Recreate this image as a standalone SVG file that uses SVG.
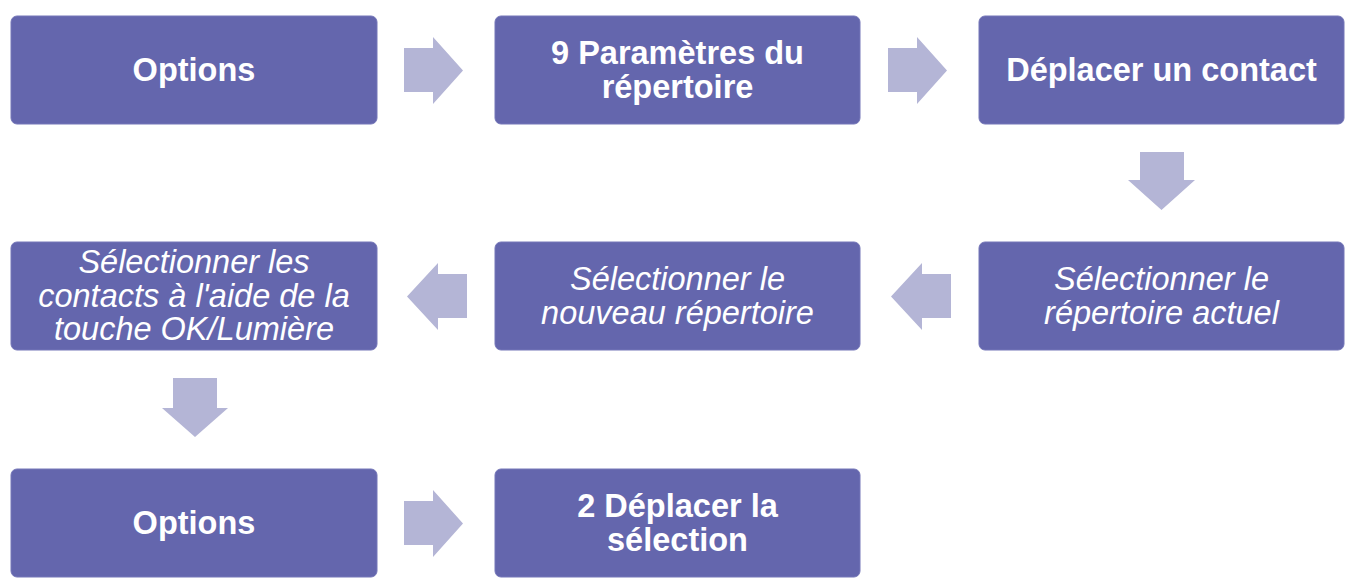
<svg xmlns="http://www.w3.org/2000/svg" width="1356" height="584" viewBox="0 0 1356 584">
<style>
.box{fill:#6466ad;stroke:#7476b8;stroke-width:1}
.arr{fill:#b4b5d6}
.t{font-family:"Liberation Sans",Arial,sans-serif;font-size:32.5px;fill:#ffffff;text-anchor:middle}
.b{font-weight:bold}
.i{font-style:italic}
</style>
<rect width="1356" height="584" fill="#ffffff"/>
<g id="connectors">
<polygon class="arr" points="404,48 433,48 433,37 463,70.5 433,104 433,92 404,92"/>
<polygon class="arr" points="888,48 917,48 917,37 947,70.5 917,104 917,92 888,92"/>
<polygon class="arr" points="1140,152 1184,152 1184,180 1195,180 1161.5,210 1128,180 1140,180"/>
<polygon class="arr" points="951,274 922,274 922,263 891,296.5 922,330 922,318 951,318"/>
<polygon class="arr" points="467,274 438,274 438,263 407,296.5 438,330 438,318 467,318"/>
<polygon class="arr" points="173,378 217,378 217,408 228,408 195,437 162,408 173,408"/>
<polygon class="arr" points="404,501 433,501 433,490 463,523.5 433,557 433,545 404,545"/>
</g>
<g id="n1"><rect class="box" x="11" y="16" width="366" height="108" rx="6"/><text class="t b" x="194" y="81">Options</text></g>
<g id="n2"><rect class="box" x="495" y="16" width="365" height="108" rx="6"/><text class="t b" x="677.5" y="64">9 Paramètres du</text><text class="t b" x="677.5" y="98">répertoire</text></g>
<g id="n3"><rect class="box" x="979" y="16" width="365" height="108" rx="6"/><text class="t b" x="1161.5" y="81">Déplacer un contact</text></g>
<g id="n4"><rect class="box" x="979" y="242" width="365" height="108" rx="6"/><text class="t i" x="1161.5" y="290">Sélectionner le</text><text class="t i" x="1161.5" y="324">répertoire actuel</text></g>
<g id="n5"><rect class="box" x="495" y="242" width="365" height="108" rx="6"/><text class="t i" x="677.5" y="290">Sélectionner le</text><text class="t i" x="677.5" y="324">nouveau répertoire</text></g>
<g id="n6"><rect class="box" x="11" y="242" width="366" height="108" rx="6"/><text class="t i" x="194" y="273">Sélectionner les</text><text class="t i" x="194" y="307">contacts à l'aide de la</text><text class="t i" x="194" y="340">touche OK/Lumière</text></g>
<g id="n7"><rect class="box" x="11" y="469" width="366" height="108" rx="6"/><text class="t b" x="194" y="534">Options</text></g>
<g id="n8"><rect class="box" x="495" y="469" width="365" height="108" rx="6"/><text class="t b" x="677.5" y="517">2 Déplacer la</text><text class="t b" x="677.5" y="551">sélection</text></g>
</svg>
